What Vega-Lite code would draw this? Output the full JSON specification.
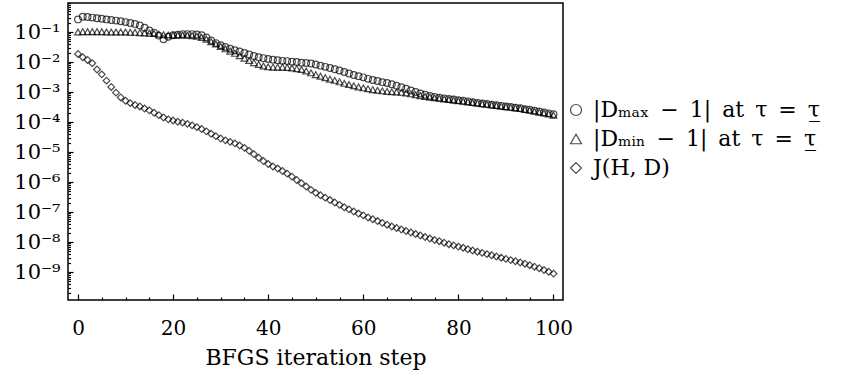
{
"$schema": "https://vega.github.io/schema/vega-lite/v6.json",
"width": 495, "height": 297,
"autosize": "none",
"padding": {"left": 68, "top": 3, "right": 280, "bottom": 77},
"config": {"font": "DejaVu Serif", "view": {"stroke": "black", "strokeWidth": 1.5},
  "axis": {"domain": false, "grid": false, "tickColor": "black", "labelColor": "black", "titleColor": "black", "labelFont": "DejaVu Serif", "titleFont": "DejaVu Serif", "labelFontSize": 20, "titleFontSize": 22, "titleFontWeight": "normal", "labelOverlap": false, "tickWidth": 1.2},
  "legend": {"labelFont": "DejaVu Serif"}},
"data": {"name": "pts"},
"datasets": {"pts": [
{"i":0,"s":"a","v":2.63e-1},{"i":1,"s":"a","v":3.236e-1},{"i":2,"s":"a","v":3.162e-1},{"i":3,"s":"a","v":3.02e-1},{"i":4,"s":"a","v":2.884e-1},{"i":5,"s":"a","v":2.754e-1},{"i":6,"s":"a","v":2.63e-1},{"i":7,"s":"a","v":2.512e-1},{"i":8,"s":"a","v":2.399e-1},{"i":9,"s":"a","v":2.291e-1},
{"i":10,"s":"a","v":2.138e-1},{"i":11,"s":"a","v":1.995e-1},{"i":12,"s":"a","v":1.862e-1},{"i":13,"s":"a","v":1.66e-1},{"i":14,"s":"a","v":1.38e-1},{"i":15,"s":"a","v":1.122e-1},{"i":16,"s":"a","v":9.55e-2},{"i":17,"s":"a","v":7.586e-2},{"i":18,"s":"a","v":5.754e-2},{"i":19,"s":"a","v":6.918e-2},
{"i":20,"s":"a","v":7.762e-2},{"i":21,"s":"a","v":8.128e-2},{"i":22,"s":"a","v":8.511e-2},{"i":23,"s":"a","v":8.511e-2},{"i":24,"s":"a","v":8.511e-2},{"i":25,"s":"a","v":8.318e-2},{"i":26,"s":"a","v":7.762e-2},{"i":27,"s":"a","v":6.607e-2},{"i":28,"s":"a","v":5.248e-2},{"i":29,"s":"a","v":4.266e-2},
{"i":30,"s":"a","v":3.631e-2},{"i":31,"s":"a","v":3.162e-2},{"i":32,"s":"a","v":2.754e-2},{"i":33,"s":"a","v":2.455e-2},{"i":34,"s":"a","v":2.239e-2},{"i":35,"s":"a","v":1.995e-2},{"i":36,"s":"a","v":1.778e-2},{"i":37,"s":"a","v":1.585e-2},{"i":38,"s":"a","v":1.445e-2},{"i":39,"s":"a","v":1.349e-2},
{"i":40,"s":"a","v":1.259e-2},{"i":41,"s":"a","v":1.202e-2},{"i":42,"s":"a","v":1.148e-2},{"i":43,"s":"a","v":1.096e-2},{"i":44,"s":"a","v":1.072e-2},{"i":45,"s":"a","v":1.023e-2},{"i":46,"s":"a","v":1.0e-2},{"i":47,"s":"a","v":9.55e-3},{"i":48,"s":"a","v":9.333e-3},{"i":49,"s":"a","v":8.913e-3},
{"i":50,"s":"a","v":8.318e-3},{"i":51,"s":"a","v":7.586e-3},{"i":52,"s":"a","v":6.918e-3},{"i":53,"s":"a","v":6.31e-3},{"i":54,"s":"a","v":5.754e-3},{"i":55,"s":"a","v":5.248e-3},{"i":56,"s":"a","v":4.677e-3},{"i":57,"s":"a","v":4.169e-3},{"i":58,"s":"a","v":3.715e-3},{"i":59,"s":"a","v":3.388e-3},
{"i":60,"s":"a","v":3.09e-3},{"i":61,"s":"a","v":2.754e-3},{"i":62,"s":"a","v":2.512e-3},{"i":63,"s":"a","v":2.344e-3},{"i":64,"s":"a","v":2.138e-3},{"i":65,"s":"a","v":1.995e-3},{"i":66,"s":"a","v":1.82e-3},{"i":67,"s":"a","v":1.622e-3},{"i":68,"s":"a","v":1.445e-3},{"i":69,"s":"a","v":1.288e-3},
{"i":70,"s":"a","v":1.122e-3},{"i":71,"s":"a","v":1.0e-3},{"i":72,"s":"a","v":8.913e-4},{"i":73,"s":"a","v":8.128e-4},{"i":74,"s":"a","v":7.413e-4},{"i":75,"s":"a","v":6.918e-4},{"i":76,"s":"a","v":6.457e-4},{"i":77,"s":"a","v":6.166e-4},{"i":78,"s":"a","v":5.888e-4},{"i":79,"s":"a","v":5.623e-4},
{"i":80,"s":"a","v":5.37e-4},{"i":81,"s":"a","v":5.129e-4},{"i":82,"s":"a","v":4.898e-4},{"i":83,"s":"a","v":4.571e-4},{"i":84,"s":"a","v":4.365e-4},{"i":85,"s":"a","v":4.169e-4},{"i":86,"s":"a","v":3.981e-4},{"i":87,"s":"a","v":3.802e-4},{"i":88,"s":"a","v":3.631e-4},{"i":89,"s":"a","v":3.467e-4},
{"i":90,"s":"a","v":3.311e-4},{"i":91,"s":"a","v":3.162e-4},{"i":92,"s":"a","v":3.02e-4},{"i":93,"s":"a","v":2.884e-4},{"i":94,"s":"a","v":2.692e-4},{"i":95,"s":"a","v":2.57e-4},{"i":96,"s":"a","v":2.399e-4},{"i":97,"s":"a","v":2.239e-4},{"i":98,"s":"a","v":2.089e-4},{"i":99,"s":"a","v":1.95e-4},{"i":100,"s":"a","v":1.82e-4},
{"i":0,"s":"b","v":1.0e-1},{"i":1,"s":"b","v":1.023e-1},{"i":2,"s":"b","v":1.023e-1},{"i":3,"s":"b","v":1.023e-1},{"i":4,"s":"b","v":1.023e-1},{"i":5,"s":"b","v":1.023e-1},{"i":6,"s":"b","v":1.0e-1},{"i":7,"s":"b","v":1.0e-1},{"i":8,"s":"b","v":1.0e-1},{"i":9,"s":"b","v":1.0e-1},
{"i":10,"s":"b","v":1.0e-1},{"i":11,"s":"b","v":9.772e-2},{"i":12,"s":"b","v":9.772e-2},{"i":13,"s":"b","v":9.55e-2},{"i":14,"s":"b","v":9.333e-2},{"i":15,"s":"b","v":9.12e-2},{"i":16,"s":"b","v":8.913e-2},{"i":17,"s":"b","v":8.511e-2},{"i":18,"s":"b","v":8.128e-2},{"i":19,"s":"b","v":7.943e-2},
{"i":20,"s":"b","v":7.943e-2},{"i":21,"s":"b","v":7.943e-2},{"i":22,"s":"b","v":7.943e-2},{"i":23,"s":"b","v":7.762e-2},{"i":24,"s":"b","v":7.586e-2},{"i":25,"s":"b","v":7.244e-2},{"i":26,"s":"b","v":6.607e-2},{"i":27,"s":"b","v":5.754e-2},{"i":28,"s":"b","v":4.786e-2},{"i":29,"s":"b","v":3.981e-2},
{"i":30,"s":"b","v":3.311e-2},{"i":31,"s":"b","v":2.754e-2},{"i":32,"s":"b","v":2.291e-2},{"i":33,"s":"b","v":1.95e-2},{"i":34,"s":"b","v":1.622e-2},{"i":35,"s":"b","v":1.349e-2},{"i":36,"s":"b","v":1.122e-2},{"i":37,"s":"b","v":9.55e-3},{"i":38,"s":"b","v":8.318e-3},{"i":39,"s":"b","v":7.413e-3},
{"i":40,"s":"b","v":6.918e-3},{"i":41,"s":"b","v":6.761e-3},{"i":42,"s":"b","v":6.761e-3},{"i":43,"s":"b","v":6.761e-3},{"i":44,"s":"b","v":6.607e-3},{"i":45,"s":"b","v":6.31e-3},{"i":46,"s":"b","v":6.026e-3},{"i":47,"s":"b","v":5.623e-3},{"i":48,"s":"b","v":5.012e-3},{"i":49,"s":"b","v":4.365e-3},
{"i":50,"s":"b","v":3.802e-3},{"i":51,"s":"b","v":3.388e-3},{"i":52,"s":"b","v":3.02e-3},{"i":53,"s":"b","v":2.692e-3},{"i":54,"s":"b","v":2.455e-3},{"i":55,"s":"b","v":2.188e-3},{"i":56,"s":"b","v":1.95e-3},{"i":57,"s":"b","v":1.778e-3},{"i":58,"s":"b","v":1.622e-3},{"i":59,"s":"b","v":1.479e-3},
{"i":60,"s":"b","v":1.38e-3},{"i":61,"s":"b","v":1.288e-3},{"i":62,"s":"b","v":1.202e-3},{"i":63,"s":"b","v":1.148e-3},{"i":64,"s":"b","v":1.096e-3},{"i":65,"s":"b","v":1.047e-3},{"i":66,"s":"b","v":1.023e-3},{"i":67,"s":"b","v":1.0e-3},{"i":68,"s":"b","v":9.772e-4},{"i":69,"s":"b","v":9.333e-4},
{"i":70,"s":"b","v":8.71e-4},{"i":71,"s":"b","v":8.128e-4},{"i":72,"s":"b","v":7.586e-4},{"i":73,"s":"b","v":7.079e-4},{"i":74,"s":"b","v":6.761e-4},{"i":75,"s":"b","v":6.457e-4},{"i":76,"s":"b","v":6.166e-4},{"i":77,"s":"b","v":5.888e-4},{"i":78,"s":"b","v":5.623e-4},{"i":79,"s":"b","v":5.37e-4},
{"i":80,"s":"b","v":5.129e-4},{"i":81,"s":"b","v":4.898e-4},{"i":82,"s":"b","v":4.677e-4},{"i":83,"s":"b","v":4.467e-4},{"i":84,"s":"b","v":4.266e-4},{"i":85,"s":"b","v":4.074e-4},{"i":86,"s":"b","v":3.89e-4},{"i":87,"s":"b","v":3.715e-4},{"i":88,"s":"b","v":3.548e-4},{"i":89,"s":"b","v":3.388e-4},
{"i":90,"s":"b","v":3.236e-4},{"i":91,"s":"b","v":3.09e-4},{"i":92,"s":"b","v":2.951e-4},{"i":93,"s":"b","v":2.818e-4},{"i":94,"s":"b","v":2.63e-4},{"i":95,"s":"b","v":2.455e-4},{"i":96,"s":"b","v":2.291e-4},{"i":97,"s":"b","v":2.138e-4},{"i":98,"s":"b","v":1.995e-4},{"i":99,"s":"b","v":1.862e-4},{"i":100,"s":"b","v":1.698e-4},
{"i":0,"s":"c","v":1.862e-2},{"i":1,"s":"c","v":1.445e-2},{"i":2,"s":"c","v":1.175e-2},{"i":3,"s":"c","v":9.12e-3},{"i":4,"s":"c","v":5.623e-3},{"i":5,"s":"c","v":3.89e-3},{"i":6,"s":"c","v":2.399e-3},{"i":7,"s":"c","v":1.479e-3},{"i":8,"s":"c","v":9.55e-4},{"i":9,"s":"c","v":6.607e-4},
{"i":10,"s":"c","v":5.129e-4},{"i":11,"s":"c","v":4.266e-4},{"i":12,"s":"c","v":3.715e-4},{"i":13,"s":"c","v":3.311e-4},{"i":14,"s":"c","v":2.818e-4},{"i":15,"s":"c","v":2.455e-4},{"i":16,"s":"c","v":2.042e-4},{"i":17,"s":"c","v":1.698e-4},{"i":18,"s":"c","v":1.413e-4},{"i":19,"s":"c","v":1.23e-4},
{"i":20,"s":"c","v":1.122e-4},{"i":21,"s":"c","v":1.023e-4},{"i":22,"s":"c","v":9.55e-5},{"i":23,"s":"c","v":8.71e-5},{"i":24,"s":"c","v":7.762e-5},{"i":25,"s":"c","v":6.761e-5},{"i":26,"s":"c","v":5.888e-5},{"i":27,"s":"c","v":4.898e-5},{"i":28,"s":"c","v":4.074e-5},{"i":29,"s":"c","v":3.388e-5},
{"i":30,"s":"c","v":2.818e-5},{"i":31,"s":"c","v":2.455e-5},{"i":32,"s":"c","v":2.188e-5},{"i":33,"s":"c","v":1.95e-5},{"i":34,"s":"c","v":1.66e-5},{"i":35,"s":"c","v":1.38e-5},{"i":36,"s":"c","v":1.096e-5},{"i":37,"s":"c","v":8.511e-6},{"i":38,"s":"c","v":6.457e-6},{"i":39,"s":"c","v":5.012e-6},
{"i":40,"s":"c","v":3.981e-6},{"i":41,"s":"c","v":3.311e-6},{"i":42,"s":"c","v":2.818e-6},{"i":43,"s":"c","v":2.344e-6},{"i":44,"s":"c","v":1.905e-6},{"i":45,"s":"c","v":1.514e-6},{"i":46,"s":"c","v":1.175e-6},{"i":47,"s":"c","v":9.12e-7},{"i":48,"s":"c","v":7.079e-7},{"i":49,"s":"c","v":5.495e-7},
{"i":50,"s":"c","v":4.365e-7},{"i":51,"s":"c","v":3.631e-7},{"i":52,"s":"c","v":3.02e-7},{"i":53,"s":"c","v":2.512e-7},{"i":54,"s":"c","v":2.089e-7},{"i":55,"s":"c","v":1.738e-7},{"i":56,"s":"c","v":1.445e-7},{"i":57,"s":"c","v":1.23e-7},{"i":58,"s":"c","v":1.047e-7},{"i":59,"s":"c","v":8.913e-8},
{"i":60,"s":"c","v":7.762e-8},{"i":61,"s":"c","v":6.607e-8},{"i":62,"s":"c","v":5.754e-8},{"i":63,"s":"c","v":5.012e-8},{"i":64,"s":"c","v":4.365e-8},{"i":65,"s":"c","v":3.802e-8},{"i":66,"s":"c","v":3.311e-8},{"i":67,"s":"c","v":2.951e-8},{"i":68,"s":"c","v":2.63e-8},{"i":69,"s":"c","v":2.344e-8},
{"i":70,"s":"c","v":2.089e-8},{"i":71,"s":"c","v":1.862e-8},{"i":72,"s":"c","v":1.66e-8},{"i":73,"s":"c","v":1.479e-8},{"i":74,"s":"c","v":1.318e-8},{"i":75,"s":"c","v":1.175e-8},{"i":76,"s":"c","v":1.072e-8},{"i":77,"s":"c","v":9.55e-9},{"i":78,"s":"c","v":8.511e-9},{"i":79,"s":"c","v":7.762e-9},
{"i":80,"s":"c","v":7.079e-9},{"i":81,"s":"c","v":6.457e-9},{"i":82,"s":"c","v":5.754e-9},{"i":83,"s":"c","v":5.248e-9},{"i":84,"s":"c","v":4.786e-9},{"i":85,"s":"c","v":4.365e-9},{"i":86,"s":"c","v":3.981e-9},{"i":87,"s":"c","v":3.631e-9},{"i":88,"s":"c","v":3.311e-9},{"i":89,"s":"c","v":3.02e-9},
{"i":90,"s":"c","v":2.754e-9},{"i":91,"s":"c","v":2.512e-9},{"i":92,"s":"c","v":2.291e-9},{"i":93,"s":"c","v":2.089e-9},{"i":94,"s":"c","v":1.905e-9},{"i":95,"s":"c","v":1.698e-9},{"i":96,"s":"c","v":1.514e-9},{"i":97,"s":"c","v":1.349e-9},{"i":98,"s":"c","v":1.175e-9},{"i":99,"s":"c","v":1.023e-9},{"i":100,"s":"c","v":8.913e-10}
]},
"mark": {"type": "point", "filled": false, "stroke": "black", "strokeWidth": 1.2, "size": 45, "clip": true},
"encoding": {
  "x": {"field": "i", "type": "quantitative", "title": "BFGS iteration step",
    "scale": {"domain": [-2.1, 102], "nice": false, "zero": false},
    "axis": {"values": [0,5,10,15,20,25,30,35,40,45,50,55,60,65,70,75,80,85,90,95,100],
      "labelExpr": "datum.value % 20 === 0 ? datum.label : ''",
      "tickSize": {"condition": {"test": "datum.value % 20 === 0", "value": -6}, "value": -3},
      "labelPadding": 24, "titlePadding": 6}},
  "y": {"field": "v", "type": "quantitative", "title": null,
    "scale": {"type": "log", "domain": [1.175e-10, 0.927], "nice": false},
    "axis": {"values": [2e-10,3e-10,4e-10,5e-10,6e-10,7e-10,8e-10,9e-10,1e-9,2e-9,3e-9,4e-9,5e-9,6e-9,7e-9,8e-9,9e-9,1e-8,2e-8,3e-8,4e-8,5e-8,6e-8,7e-8,8e-8,9e-8,1e-7,2e-7,3e-7,4e-7,5e-7,6e-7,7e-7,8e-7,9e-7,1e-6,2e-6,3e-6,4e-6,5e-6,6e-6,7e-6,8e-6,9e-6,1e-5,2e-5,3e-5,4e-5,5e-5,6e-5,7e-5,8e-5,9e-5,1e-4,2e-4,3e-4,4e-4,5e-4,6e-4,7e-4,8e-4,9e-4,1e-3,2e-3,3e-3,4e-3,5e-3,6e-3,7e-3,8e-3,9e-3,1e-2,2e-2,3e-2,4e-2,5e-2,6e-2,7e-2,8e-2,9e-2,1e-1,2e-1,3e-1,4e-1,5e-1,6e-1,7e-1,8e-1,9e-1],
      "labelExpr": "indexof([1e-1,1e-2,1e-3,1e-4,1e-5,1e-6,1e-7,1e-8,1e-9], datum.value) >= 0 ? '10' + ['','⁻¹','⁻²','⁻³','⁻⁴','⁻⁵','⁻⁶','⁻⁷','⁻⁸','⁻⁹'][round(-log(datum.value)/LN10)] : ''",
      "tickSize": {"condition": {"test": "indexof([1e-1,1e-2,1e-3,1e-4,1e-5,1e-6,1e-7,1e-8,1e-9], datum.value) >= 0", "value": -5}, "value": -2.5},
      "labelFontSize": 21, "labelPadding": 13}},
  "shape": {"field": "s", "type": "nominal",
    "scale": {"domain": ["a","b","c"], "range": ["circle","triangle-up","diamond"]},
    "legend": {"title": null, "orient": "none", "legendX": 497, "legendY": 96, "padding": 0,
      "symbolSize": 120, "symbolStrokeColor": "black", "symbolFillColor": "transparent", "symbolStrokeWidth": 1.2,
      "labelFontSize": 22, "labelColor": "black", "labelLimit": 0, "labelOffset": 6, "rowPadding": 7,
      "labelExpr": "datum.value == 'a' ? '|Dₘₐₓ\u2002−\u20021|\u2002at\u2002τ\u2002=\u2002τ̲' : datum.value == 'b' ? '|Dₘᵢₙ\u2002−\u20021|\u2002at\u2002τ\u2002=\u2002τ̲' : 'J(H, D)'"}}
}
}
